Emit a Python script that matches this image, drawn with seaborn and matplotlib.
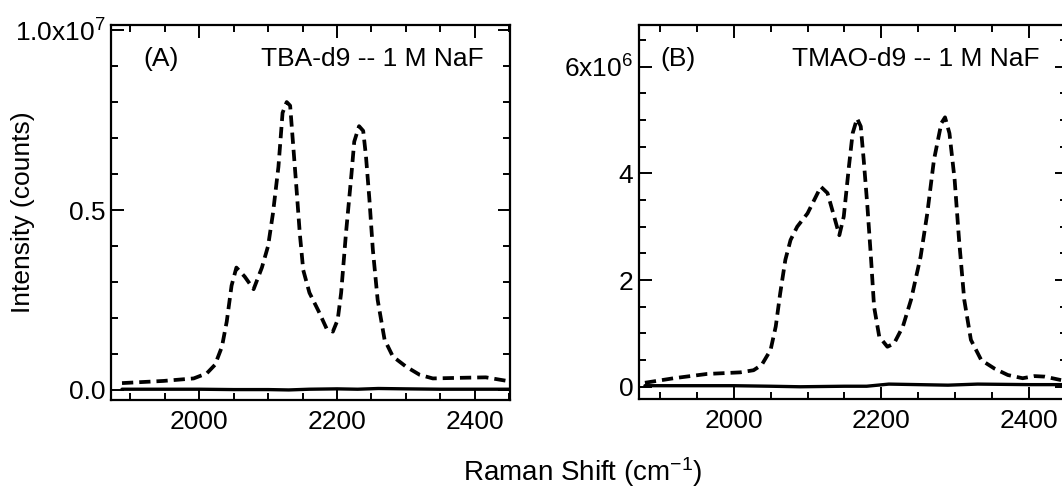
import numpy as np
import pandas as pd
import matplotlib
matplotlib.use("Agg")
import matplotlib.pyplot as plt
from matplotlib.ticker import MultipleLocator, FixedLocator, FixedFormatter
import seaborn as sns

# Panel A: TBA-d9 in 1 M NaF (counts)
tba_shift = [1888, 1948, 1992, 2011, 2023, 2033, 2040, 2047, 2054, 2066, 2079, 2091,
             2100, 2107, 2115, 2121, 2127, 2132, 2136, 2141, 2146, 2151, 2160, 2173,
             2185, 2194, 2201, 2206, 2213, 2221, 2225, 2232, 2238, 2242, 2247, 2252,
             2259, 2269, 2281, 2300, 2320, 2339, 2387, 2416, 2447]
tba_solute = [0.019e7, 0.025e7, 0.032e7, 0.046e7, 0.070e7, 0.120e7, 0.190e7, 0.290e7,
              0.340e7, 0.315e7, 0.280e7, 0.340e7, 0.400e7, 0.490e7, 0.620e7, 0.770e7,
              0.800e7, 0.790e7, 0.690e7, 0.565e7, 0.435e7, 0.333e7, 0.270e7, 0.220e7,
              0.170e7, 0.162e7, 0.195e7, 0.270e7, 0.435e7, 0.600e7, 0.690e7, 0.733e7,
              0.720e7, 0.650e7, 0.530e7, 0.390e7, 0.250e7, 0.140e7, 0.093e7, 0.065e7,
              0.042e7, 0.032e7, 0.034e7, 0.035e7, 0.025e7]
tba_base_shift = [1888, 1950, 2000, 2050, 2100, 2130, 2160, 2200, 2230, 2260, 2300, 2350, 2400, 2450]
tba_baseline = [0.002e7, 0.002e7, 0.002e7, 0.001e7, 0.001e7, 0.000e7, 0.002e7, 0.003e7,
                0.002e7, 0.004e7, 0.003e7, 0.002e7, 0.002e7, 0.002e7]

# Panel B: TMAO-d9 in 1 M NaF (counts)
tmao_shift = [1880, 1919, 1964, 2009, 2027, 2038, 2050, 2057, 2063, 2070, 2077, 2086,
              2100, 2109, 2118, 2127, 2136, 2143, 2149, 2156, 2161, 2167, 2172, 2176,
              2181, 2186, 2190, 2197, 2208, 2217, 2229, 2240, 2253, 2262, 2271, 2281,
              2286, 2292, 2299, 2305, 2312, 2321, 2335, 2353, 2371, 2391, 2407, 2421, 2443]
tmao_solute = [0.075e6, 0.16e6, 0.24e6, 0.27e6, 0.31e6, 0.41e6, 0.69e6, 1.13e6, 1.75e6,
               2.38e6, 2.75e6, 3.00e6, 3.25e6, 3.50e6, 3.75e6, 3.63e6, 3.19e6, 2.84e6,
               3.19e6, 4.13e6, 4.75e6, 5.03e6, 4.88e6, 4.25e6, 3.38e6, 2.38e6, 1.50e6,
               0.94e6, 0.75e6, 0.81e6, 1.13e6, 1.63e6, 2.44e6, 3.25e6, 4.25e6, 4.94e6,
               5.05e6, 4.75e6, 3.88e6, 2.75e6, 1.63e6, 0.88e6, 0.50e6, 0.34e6, 0.22e6,
               0.16e6, 0.20e6, 0.19e6, 0.125e6]
tmao_base_shift = [1880, 1950, 2000, 2050, 2090, 2150, 2180, 2210, 2250, 2290, 2330, 2400, 2450]
tmao_baseline = [0.02e6, 0.02e6, 0.02e6, 0.01e6, 0.00e6, 0.01e6, 0.01e6, 0.05e6, 0.04e6,
                 0.03e6, 0.05e6, 0.04e6, 0.04e6]

sns.set_style("ticks")
plt.rcParams["font.family"] = ["Liberation Sans", "DejaVu Sans"]
plt.rcParams["mathtext.fontset"] = "custom"
plt.rcParams["mathtext.rm"] = "Liberation Sans"
plt.rcParams["mathtext.it"] = "Liberation Sans:italic"
plt.rcParams["mathtext.bf"] = "Liberation Sans:bold"
plt.rcParams["text.color"] = "black"
plt.rcParams["axes.labelcolor"] = "black"

FS = 19

fig = plt.figure(figsize=(10.62, 4.88), dpi=100)
ax_a = fig.add_axes([0.1045, 0.1803, 0.3757, 0.7684])
ax_b = fig.add_axes([0.6017, 0.1823, 0.4030, 0.7664])

DASH = (3.0, 1.6)


def draw_panel(ax, x, y, bx, by):
    df = pd.DataFrame({"shift": x, "counts": y})
    dfb = pd.DataFrame({"shift": bx, "counts": by})
    sns.lineplot(data=df, x="shift", y="counts", ax=ax, color="black",
                 linewidth=2.7, dashes=False)
    ax.lines[-1].set_dashes(DASH)
    sns.lineplot(data=dfb, x="shift", y="counts", ax=ax, color="black",
                 linewidth=2.4)
    ax.set_xlim(1872, 2451)
    ax.xaxis.set_major_locator(FixedLocator([2000, 2200, 2400]))
    ax.xaxis.set_minor_locator(MultipleLocator(50))
    ax.set_xlabel("")
    ax.set_ylabel("")
    for s in ax.spines.values():
        s.set_linewidth(1.6)
        s.set_color("black")
    ax.tick_params(which="both", direction="in", top=True, right=True,
                   colors="black", labelsize=FS, width=1.4)
    ax.tick_params(which="major", length=9, pad=7)
    ax.tick_params(which="minor", length=5)


draw_panel(ax_a, tba_shift, tba_solute, tba_base_shift, tba_baseline)
ax_a.set_ylim(-0.028e7, 1.014e7)
ax_a.yaxis.set_major_locator(FixedLocator([0, 0.5e7, 1.0e7]))
ax_a.yaxis.set_major_formatter(FixedFormatter(["0.0", "0.5", "1.0x10$^{7}$"]))
ax_a.yaxis.set_minor_locator(MultipleLocator(0.1e7))
ax_a.tick_params(axis="y", pad=4)
ax_a.text(0.08, 0.91, "(A)", transform=ax_a.transAxes, fontsize=FS,
          ha="left", va="center", color="black")
ax_a.text(0.935, 0.91, "TBA-d9 -- 1 M NaF", transform=ax_a.transAxes, fontsize=FS,
          ha="right", va="center", color="black")
ax_a.set_ylabel("Intensity (counts)", fontsize=FS, color="black")
ax_a.yaxis.set_label_coords(-0.19, 0.5)

draw_panel(ax_b, tmao_shift, tmao_solute, tmao_base_shift, tmao_baseline)
ax_b.set_ylim(-0.23e6, 6.78e6)
ax_b.yaxis.set_major_locator(FixedLocator([0, 2e6, 4e6, 6e6]))
ax_b.yaxis.set_major_formatter(FixedFormatter(["0", "2", "4", "6x10$^{6}$"]))
ax_b.yaxis.set_minor_locator(MultipleLocator(0.5e6))
ax_b.tick_params(axis="y", pad=4)
ax_b.text(0.05, 0.91, "(B)", transform=ax_b.transAxes, fontsize=FS,
          ha="left", va="center", color="black")
ax_b.text(0.935, 0.91, "TMAO-d9 -- 1 M NaF", transform=ax_b.transAxes, fontsize=FS,
          ha="right", va="center", color="black")

fig.text(0.549, 0.032, "Raman Shift (cm$^{-1}$)", fontsize=FS + 1, ha="center",
         va="center", color="black")

fig.savefig("out.png", dpi=100)
